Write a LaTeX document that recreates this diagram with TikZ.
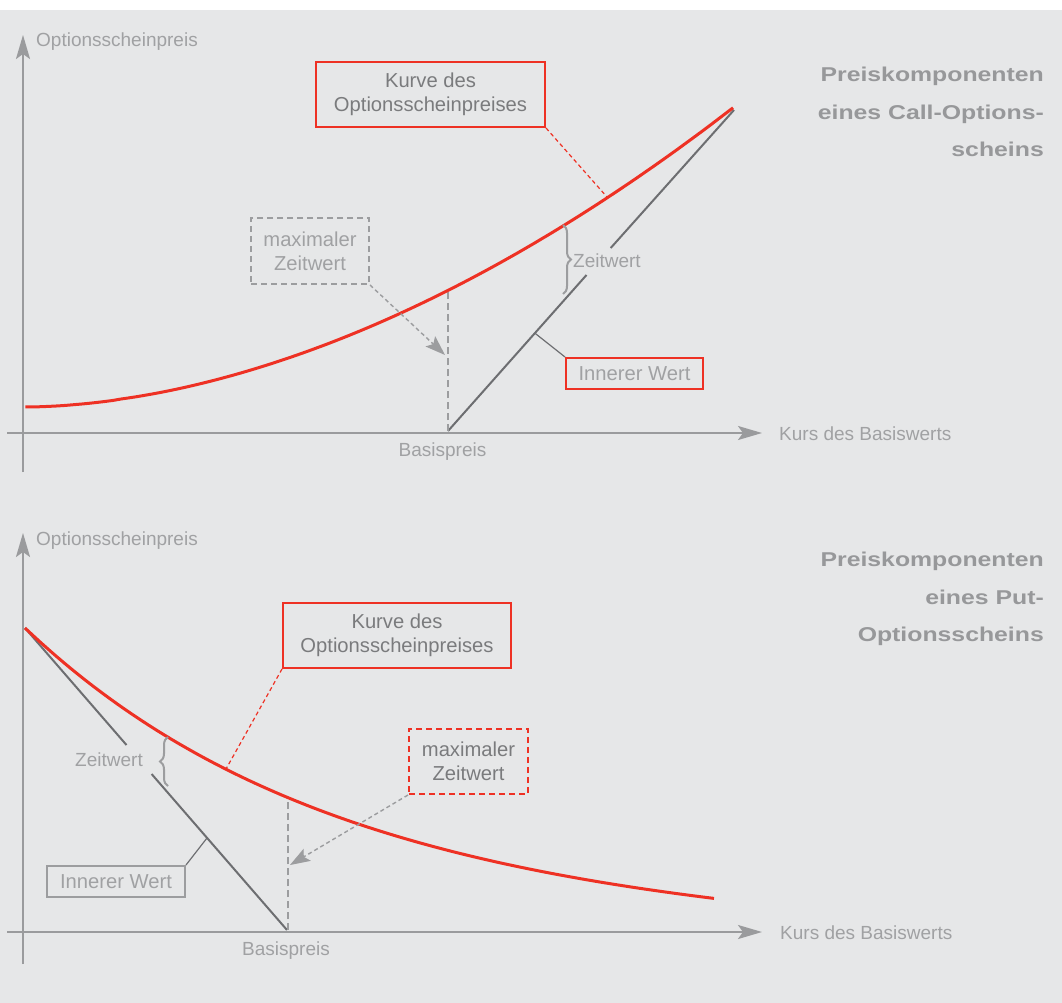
\documentclass[tikz,border=0pt]{standalone}
\usepackage{fontspec}
\setmainfont{Liberation Sans}
\newfontfamily\titlefont[FakeStretch=1.24]{Liberation Sans}
\usetikzlibrary{arrows.meta,decorations.pathreplacing}
\definecolor{bg}{HTML}{E6E7E8}
\definecolor{redc}{HTML}{EE3124}
\definecolor{axisc}{HTML}{9A9B9D}
\definecolor{linec}{HTML}{6D6E71}
\definecolor{txtlight}{HTML}{A0A1A3}
\definecolor{txtdark}{HTML}{7A7B7D}
\definecolor{boxgray}{HTML}{9C9D9F}
\definecolor{titlec}{HTML}{97989A}
\tikzset{
  axis/.style={draw=axisc, line width=2pt, -{Stealth[length=24pt,width=14pt,inset=5pt]}},
  price/.style={draw=redc, line width=3pt},
  inner/.style={draw=linec, line width=2pt},
  lbl/.style={text=txtlight, font=\fontsize{19}{23}\selectfont, inner sep=0pt},
  boxlbl/.style={font=\fontsize{20.2}{24}\selectfont, align=center, inner sep=0pt},
  redbox/.style={boxlbl, draw=redc, line width=2pt, text=txtdark},
  reddashbox/.style={boxlbl, draw=redc, line width=2pt, dash pattern=on 6pt off 4pt, text=txtdark},
  graydashbox/.style={boxlbl, draw=boxgray, line width=2pt, dash pattern=on 6pt off 4pt, text=txtlight},
  redboxlight/.style={boxlbl, draw=redc, line width=2pt, text=txtlight},
  graybox/.style={boxlbl, draw=boxgray, line width=2pt, text=txtlight},
  vdash/.style={draw=boxgray, line width=2pt, dash pattern=on 7pt off 4pt},
  reddots/.style={draw=redc, line width=1.2pt, dash pattern=on 4pt off 3pt},
  graydots/.style={draw=boxgray, line width=1.4pt, dash pattern=on 4pt off 3pt, -{Stealth[length=20pt,width=14pt,inset=4pt]}},
  leader/.style={draw=linec, line width=1.2pt},
  bracec/.style={draw=boxgray, line width=2pt, decorate, decoration={brace, amplitude=8pt}},
  title/.style={text=titlec, font=\titlefont\fontsize{20}{37.5}\selectfont\bfseries, align=right, inner sep=0pt, anchor=north east},
}
\begin{document}
\begin{tikzpicture}[x=1pt, y=-1pt]
\path[use as bounding box, fill=white] (0,0) rectangle (1062,1003);
\fill[bg] (0,10) rectangle (1062,1003);

% ================= TOP: Call =================
\coordinate (tyb) at (23,472);
\coordinate (tyt) at (23,35);
\coordinate (txl) at (7,433);
\coordinate (txr) at (762,433);
\draw[axis] (tyb) -- (tyt);
\draw[axis] (txl) -- (txr);
\node[lbl, anchor=west] (tylab) at (36,42) {Optionsscheinpreis};
\node[lbl, anchor=west] (txlab) at (779,434) {Kurs des Basiswerts};
\node[lbl] (tbasis) at (442.5,452) {Basispreis};

% inner value line with gap
\coordinate (tk) at (448,431);
\coordinate (tg1) at (586.5,275);
\coordinate (tg2) at (610.7,248);
\coordinate (tend) at (734,110);
\draw[inner] (tk) -- (tg1);
\draw[inner] (tg2) -- (tend);

% dashed vertical at strike
\coordinate (tvtop) at (448,290);
\draw[vdash] (tk) -- (tvtop);

% price curve
\draw[price] plot[domain=0.0005:1, samples=90] ({25+709*\x},{407-300*(\x)^1.83});

% brace and Zeitwert
\coordinate (tbr1) at (563,225);
\coordinate (tbr2) at (563,294);
\draw[bracec] (tbr1) -- (tbr2);
\node[lbl, anchor=west] (tzeit) at (573,261) {Zeitwert};

% boxes
\node[redbox, minimum width=229pt, minimum height=65pt] (tkurve) at (430.5,94.5) {Kurve des\\Optionsscheinpreises};
\coordinate (tkurvept) at (607,197);
\draw[reddots] (tkurve.south east) -- (tkurvept);

\node[graydashbox, minimum width=118pt, minimum height=66pt] (tmax) at (310,251) {maximaler\\Zeitwert};
\coordinate (tmaxpt) at (445,355);
\draw[graydots] (tmax.south east) -- (tmaxpt);

\node[redboxlight, minimum width=137pt, minimum height=31pt] (tinner) at (634.5,373.5) {Innerer Wert};
\coordinate (tinnerpt) at (534.7,333);
\draw[leader] (tinner.north west) -- (tinnerpt);

\node[title] (ttitle) at (1044,67) {Preiskomponenten\\eines Call-Options-\\scheins};

% ================= BOTTOM: Put =================
\coordinate (byb) at (23,964);
\coordinate (byt) at (23,533);
\coordinate (bxl) at (7,932);
\coordinate (bxr) at (762,932);
\draw[axis] (byb) -- (byt);
\draw[axis] (bxl) -- (bxr);
\node[lbl, anchor=west] (bylab) at (36,541) {Optionsscheinpreis};
\node[lbl, anchor=west] (bxlab) at (780,933) {Kurs des Basiswerts};
\node[lbl] (bbasis) at (286,951) {Basispreis};

\coordinate (bstart) at (25,628);
\coordinate (bg1) at (126.5,745);
\coordinate (bg2) at (151.6,774);
\coordinate (bk) at (287,930);
\draw[inner] (bstart) -- (bg1);
\draw[inner] (bg2) -- (bk);

\coordinate (bvtop) at (288,797);
\coordinate (bvbot) at (288,930);
\draw[vdash] (bvbot) -- (bvtop);

\draw[price] plot[domain=0:689, samples=90] ({25+\x},{628+280*(1-exp(-0.0033*\x))+0.028*\x});

\coordinate (bbr1) at (168,786);
\coordinate (bbr2) at (168,737);
\draw[bracec] (bbr1) -- (bbr2);
\node[lbl, anchor=east] (bzeit) at (143,760) {Zeitwert};

\node[redbox, minimum width=228pt, minimum height=65pt] (bkurve) at (397,635.5) {Kurve des\\Optionsscheinpreises};
\coordinate (bkurvept) at (226,769);
\draw[reddots] (bkurve.south west) -- (bkurvept);

\node[reddashbox, minimum width=119pt, minimum height=65pt] (bmax) at (468.5,761.5) {maximaler\\Zeitwert};
\coordinate (bmaxpt) at (290,865);
\draw[graydots] (bmax.south west) -- (bmaxpt);

\node[graybox, minimum width=138pt, minimum height=31pt] (binner) at (116,881.5) {Innerer Wert};
\coordinate (binnerpt) at (207,838);
\draw[leader] (binner.north east) -- (binnerpt);

\node[title] (btitle) at (1044,552) {Preiskomponenten\\eines Put-\\Optionsscheins};
\end{tikzpicture}
\end{document}
